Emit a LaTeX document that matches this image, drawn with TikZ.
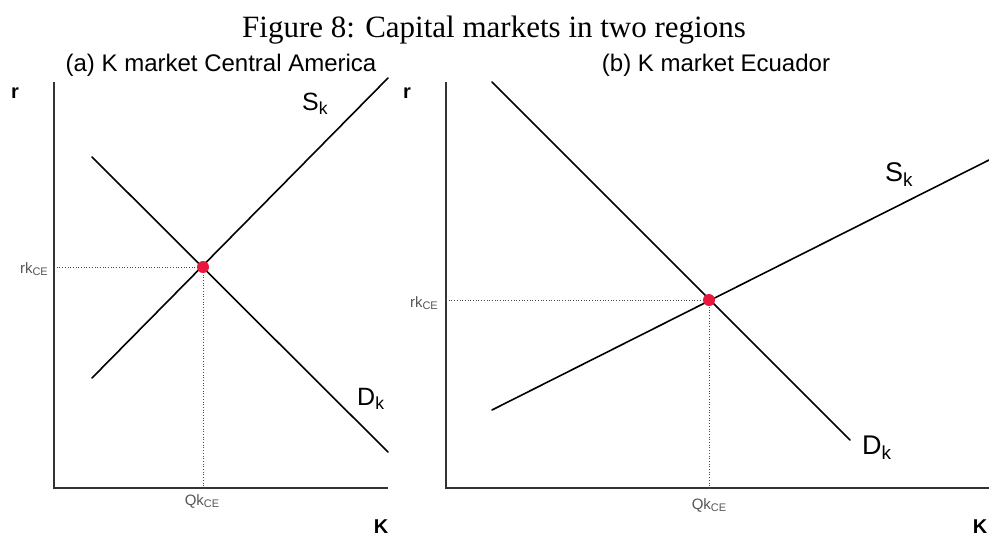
\documentclass[tikz,border=0pt]{standalone}
\usepackage{fontspec}
\setmainfont{Liberation Serif}
\setsansfont{Liberation Sans}
\definecolor{dotred}{HTML}{E8173C}
\definecolor{labgray}{HTML}{555555}
\newcommand{\mysub}[1]{\raisebox{-0.3ex}{\fontsize{11}{11}\selectfont #1}}
\begin{document}
\begin{tikzpicture}[x=1pt,y=-1pt,
  axis/.style={line width=1.1pt, draw=black!80},
  curve/.style={line width=1.6pt, line cap=round},
  guide/.style={dotted, line width=0.7pt, draw=black!70},
  eqdot/.style={circle, fill=dotred, inner sep=0pt, minimum size=12pt},
  small/.style={font=\sffamily\fontsize{15}{15}\selectfont, text=labgray, inner sep=0pt},
  big/.style={font=\sffamily\fontsize{25}{25}\selectfont, inner sep=0pt, anchor=base west},
  axlab/.style={font=\sffamily\bfseries\fontsize{20}{20}\selectfont, inner sep=0pt, anchor=base},
  ptitle/.style={font=\sffamily\fontsize{24}{24}\selectfont, inner sep=0pt, anchor=base}]
\useasboundingbox (0,0) rectangle (989,536);
\node[font=\fontsize{31}{31}\selectfont, inner sep=0pt, anchor=base] (title) at (494,37) {Figure 8: Capital markets in two regions};
% ---- panel a
\node[ptitle] (ta) at (221,71) {(a) K market Central America};
\coordinate (ya0) at (54,488); \coordinate (ya1) at (54,82); \coordinate (xa1) at (388,488);
\draw[axis] (ya1) -- (ya0) -- (xa1);
\node[axlab] (ra) at (15,98) {r};
\node[axlab] (Ka) at (381,533) {K};
\coordinate (sa0) at (92,378); \coordinate (sa1) at (388,78);
\coordinate (da0) at (92,157); \coordinate (da1) at (388,452);
\draw[curve] (sa0) -- (sa1);
\draw[curve] (da0) -- (da1);
\coordinate (ea) at (203,267);
\coordinate (eay) at (54,267); \coordinate (eax) at (203,488);
\draw[guide] (eay) -- (ea) -- (eax);
\node[eqdot] (pa) at (ea) {};
\node[small, anchor=base east] (rka) at (48,273) {rk\mysub{CE}};
\node[small, anchor=base] (qka) at (202,505) {Qk\mysub{CE}};
\node[big] (ska) at (302,110) {S\textsubscript{k}};
\node[big] (dka) at (357,405) {D\textsubscript{k}};
% ---- panel b
\node[ptitle] (tb) at (716,71) {(b) K market Ecuador};
\coordinate (yb0) at (446,488); \coordinate (yb1) at (446,82); \coordinate (xb1) at (989,488);
\draw[axis] (yb1) -- (yb0) -- (xb1);
\node[axlab] (rb) at (407,98) {r};
\node[axlab] (Kb) at (980,533) {K};
\coordinate (sb0) at (492,410); \coordinate (sb1) at (989,160);
\coordinate (db0) at (492,82); \coordinate (db1) at (850,440);
\draw[curve] (sb0) -- (sb1);
\draw[curve] (db0) -- (db1);
\coordinate (eb) at (709,300);
\coordinate (eby) at (446,300); \coordinate (ebx) at (709,488);
\draw[guide] (eby) -- (eb) -- (ebx);
\node[eqdot] (pb) at (eb) {};
\node[small, anchor=base east] (rkb) at (438,307) {rk\mysub{CE}};
\node[small, anchor=base] (qkb) at (709,509) {Qk\mysub{CE}};
\node[big, font=\sffamily\fontsize{27}{27}\selectfont] (skb) at (885,181) {S\textsubscript{k}};
\node[big, font=\sffamily\fontsize{27}{27}\selectfont] (dkb) at (862,454) {D\textsubscript{k}};
\end{tikzpicture}
\end{document}
